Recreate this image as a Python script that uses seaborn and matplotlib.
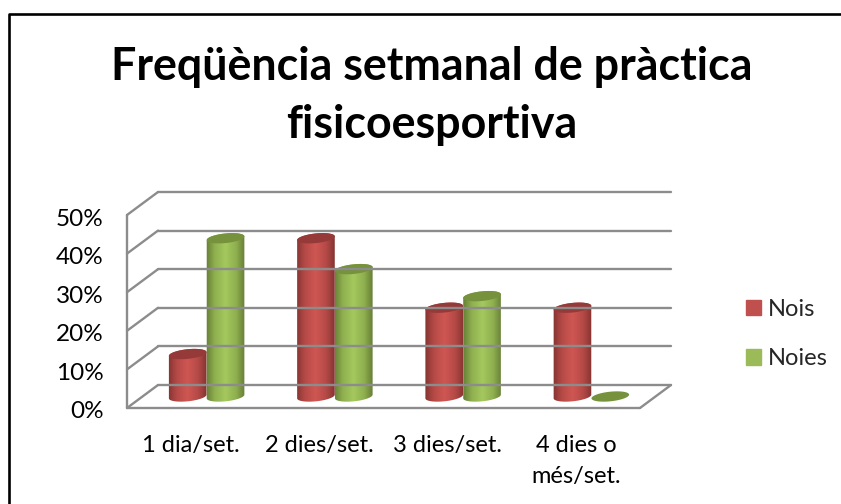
import numpy as np
import pandas as pd
import matplotlib
matplotlib.use('Agg')
import matplotlib.pyplot as plt
from matplotlib.lines import Line2D
from matplotlib.patches import Polygon, Rectangle
from matplotlib.path import Path
from matplotlib.transforms import IdentityTransform, ScaledTranslation
from matplotlib.colors import LinearSegmentedColormap
import seaborn as sns

# dades
categories = ['1 dia/set.', '2 dies/set.', '3 dies/set.', '4 dies o\nmés/set.']
nois = [11, 41, 23, 23]
noies = [41, 33, 26, 0]
yticks = [0, 10, 20, 30, 40, 50]

W, H = 841, 504
RED = ['#7a2e2c', '#b54a47', '#cf5753', '#b54a47', '#7a2e2c']
GREEN = ['#5c7230', '#8fb04f', '#a5c85e', '#8fb04f', '#5c7230']
TOPS = {'Nois': '#953a38', 'Noies': '#76923c'}

sns.set_theme(style='white')
plt.rcParams['font.family'] = ['Lato', 'DejaVu Sans']

df = pd.DataFrame({
    'cat': categories * 2,
    'valor': nois + noies,
    'serie': ['Nois'] * 4 + ['Noies'] * 4,
})


def px_axes(fig, x0, y_bottom, x1, y_top):
    return fig.add_axes([x0 / W, 1 - y_bottom / H, (x1 - x0) / W, (y_bottom - y_top) / H])


fig = plt.figure(figsize=(W / 100, H / 100), dpi=100)
fig.patch.set_facecolor('white')

# marc exterior (dalt i esquerra; la resta queda fora de la imatge)
fig.add_artist(Line2D(np.array([8.5, 8.5, 841]) / W, 1 - np.array([504, 14, 14]) / H,
                      color='black', lw=1.9, transform=fig.transFigure))

# pla frontal: eixos i etiquetes
ax = px_axes(fig, 127, 408, 640, 215)
ax.set_xlim(-0.5, 3.5)
ax.set_ylim(0, 50)
ax.set_yticks(yticks)
ax.set_yticklabels([f'{t}%' for t in yticks], fontsize=17.5, color='black', va='center')
ax.set_xticks(range(4))
ax.set_xticklabels(categories, fontsize=17, color='black', linespacing=1.6)
ax.tick_params(axis='y', pad=17, length=0)
ax.tick_params(axis='x', pad=19.5, length=0)
ax.patch.set_alpha(0)
for s in ax.spines.values():
    s.set_visible(False)
# les xifres van una mica per sota de la línia
for lbl in ax.get_yticklabels():
    lbl.set_transform(lbl.get_transform() + ScaledTranslation(0, -0.04, fig.dpi_scale_trans))

# parets en perspectiva (gris)
DX, DY = 31, 23
grid = '#8c8c8c'


def wall_line(x, y):
    fig.add_artist(Line2D(np.array(x) / W, 1 - np.array(y) / H, color=grid, lw=1.7,
                          transform=fig.transFigure, zorder=0.5))


for t in yticks:
    y = 408 - t * 193 / 50
    wall_line([127, 127 + DX], [y, y - DY])
    wall_line([127 + DX, 640 + DX], [y - DY, y - DY])
wall_line([127, 127], [408, 215])
wall_line([127, 640], [408, 408])
wall_line([640, 640 + DX], [408, 408 - DY])

# barres
bars = px_axes(fig, 127 + 15.5, 396.5, 640 + 15.5, 396.5 - 193)
bars.patch.set_alpha(0)
sns.barplot(data=df, x='cat', y='valor', hue='serie', order=categories,
            hue_order=['Nois', 'Noies'], palette=['#c0504d', '#9bbb59'],
            width=0.59, gap=0, legend=False, ax=bars)
bars.set_xlim(-0.5, 3.5)
bars.set_ylim(0, 50)
bars.axis('off')

maps = {'Nois': LinearSegmentedColormap.from_list('r', RED),
        'Noies': LinearSegmentedColormap.from_list('g', GREEN)}
fig.canvas.draw()


def ellipse_pts(cx, cy, a, b, t):
    ang = np.radians(6)
    ex, ey = a * np.cos(t), b * np.sin(t)
    return np.c_[cx + ex * np.cos(ang) - ey * np.sin(ang),
                 cy + ex * np.sin(ang) + ey * np.cos(ang)]


rects = [p for p in bars.patches if p.get_width() > 0]
series = ['Nois'] * 4 + ['Noies'] * 4
for i, (p, name) in enumerate(zip(rects, series)):
    x0, h = p.get_x(), p.get_height()
    x1 = x0 + p.get_width()
    (dx0, dy0), (dx1, dy1) = bars.transData.transform([(x0, 0), (x1, h)])
    cx, a, b = (dx0 + dx1) / 2, (dx1 - dx0) / 2, 4.8
    p.set_visible(False)
    z = 2 + i % 4 + (0.5 if name == 'Noies' else 0)
    if h > 0:
        lower = ellipse_pts(cx, dy0, a, b, np.linspace(np.pi, 2 * np.pi, 40))
        upper = ellipse_pts(cx, dy1, a, b, np.linspace(0, np.pi, 40))
        outline = Path(np.r_[lower, upper, lower[:1]], closed=True)
        im = bars.imshow(np.linspace(0, 1, 128)[None, :], cmap=maps[name], aspect='auto',
                         extent=(x0 - 0.02, x1 + 0.02, -5, h + 5), zorder=z)
        im.set_clip_box(fig.bbox)
        im.set_clip_path(outline, IdentityTransform())
    top = ellipse_pts(cx, dy1, a, b, np.linspace(0, 2 * np.pi, 80))
    bars.add_patch(Polygon(top, closed=True, facecolor=TOPS[name], edgecolor='none',
                           transform=IdentityTransform(), zorder=z + 0.1, clip_on=False))
bars.set_xlim(-0.5, 3.5)
bars.set_ylim(0, 50)

# títol
fig.text(432 / W, 1 - 67 / H, 'Freqüència setmanal de pràctica', fontsize=32.2, fontweight='bold',
         color='black', ha='center', va='center')
fig.text(432 / W, 1 - 125 / H, 'fisicoesportiva', fontsize=32.2, fontweight='bold',
         color='black', ha='center', va='center')

# llegenda
handles = [Rectangle((0, 0), 1, 1, color='#c0504d'), Rectangle((0, 0), 1, 1, color='#9bbb59')]
fig.legend(handles, ['Nois', 'Noies'], loc='center left', bbox_to_anchor=(746 / W, 1 - 334 / H),
           frameon=False, fontsize=17, handlelength=0.63, handleheight=0.63,
           handletextpad=0.3, labelspacing=1.2, borderpad=0, borderaxespad=0)

fig.savefig('out.png', dpi=100)
